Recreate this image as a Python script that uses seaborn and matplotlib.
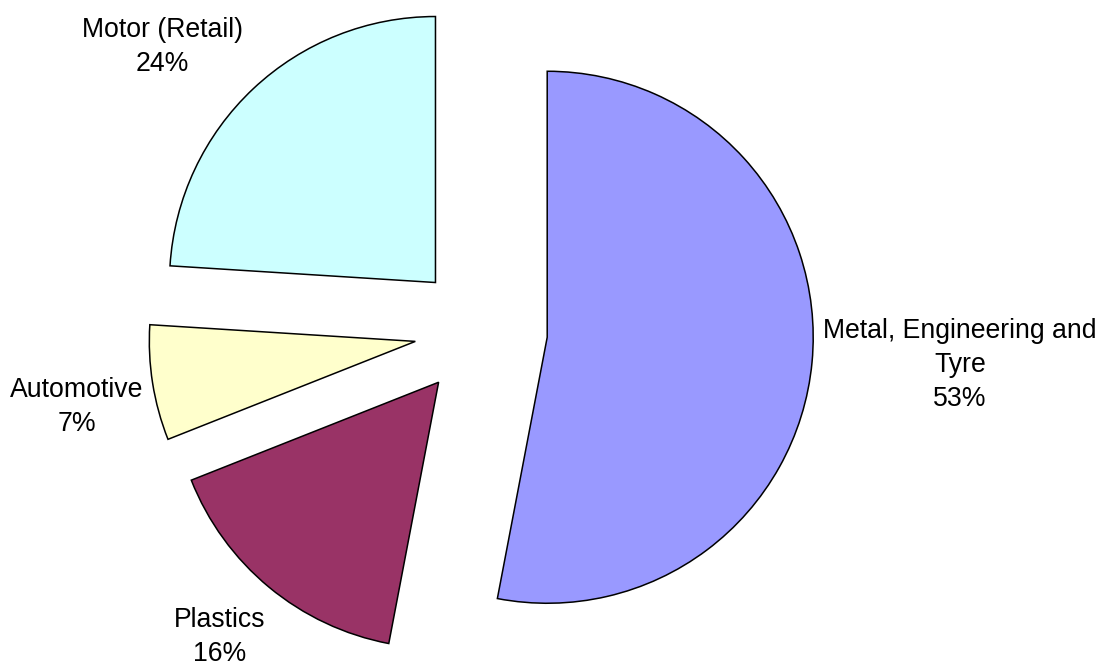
import matplotlib
matplotlib.use("Agg")
import matplotlib.pyplot as plt
import seaborn as sns

# Share of sales by sector
sectors = ["Metal, Engineering and\nTyre", "Plastics", "Automotive", "Motor (Retail)"]
shares = [53, 16, 7, 24]
colors = ["#9999FF", "#993366", "#FFFFCC", "#CCFFFF"]

# label anchor points (pixel coordinates, origin bottom-left)
label_pos = [(960, 301), (220, 29), (77, 259), (162, 619)]

sns.set_theme(style="white")
plt.rcParams["font.family"] = ["Liberation Sans", "DejaVu Sans"]

W, H = 1103, 666
fig = plt.figure(figsize=(W / 100, H / 100), dpi=100)
ax = fig.add_axes([0, 0, 1, 1])

radius = 266
# pie explode offsets are in data units, so scale by the radius
offset = 0.25 * radius

ax.pie(
    shares,
    colors=colors,
    startangle=90,
    counterclock=False,
    explode=[offset] * len(shares),
    center=(481, 335),
    radius=radius,
    wedgeprops=dict(edgecolor="black", linewidth=1.1),
)

for name, val, (x, y) in zip(sectors, shares, label_pos):
    ax.text(x, y, f"{name}\n{val}%", ha="center", va="center",
            fontsize=19.2, linespacing=1.38, color="black")

ax.set_xlim(0, W)
ax.set_ylim(0, H)
ax.set_aspect("equal")
ax.axis("off")

fig.savefig("out.png", dpi=100, facecolor="white")
